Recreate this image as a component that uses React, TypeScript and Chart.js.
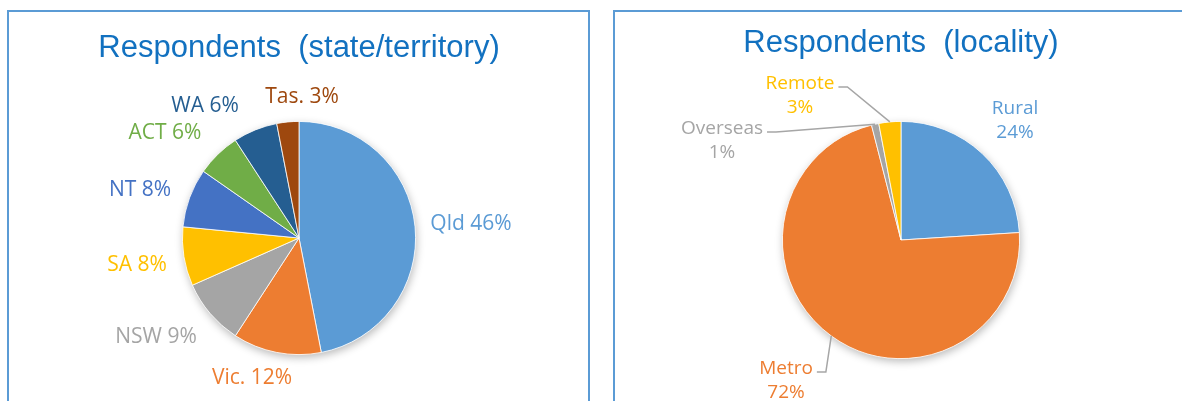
import React, { useEffect, useRef } from "react";
import { Chart, registerables } from "chart.js";

Chart.register(...registerables);

// ---- data ----
const stateNames = ["Qld", "Vic.", "NSW", "SA", "NT", "ACT", "WA", "Tas."];
const stateValues = [46, 12, 9, 8, 8, 6, 6, 3];
const stateColors = ["#5B9BD5", "#ED7D31", "#A5A5A5", "#FFC000", "#4472C4", "#70AD47", "#255E91", "#9E480E"];

const localityNames = ["Rural", "Metro", "Overseas", "Remote"];
const localityValues = [24, 72, 1, 3];
const localityColors = ["#5B9BD5", "#ED7D31", "#A5A5A5", "#FFC000"];

// ---- label layout (offset of label centre from pie centre, px) ----
const stateLabelOffsets = [[172, -14], [-47, 140], [-143, 99], [-162, 27], [-159, -48], [-134, -105], [-94, -132], [3, -141]];
const localityLabelOffsets = [[114, -119], [-115, 141], [-179, -99], [-101, -144]];
const localityLeaders = [false, true, true, true];
const stateLeaders = [false, false, false, false, false, false, false, false];

const TITLE_COLOR = "#1271C0";

function labelPlugin(lines: string[][], colors: string[], offsets: number[][], leaders: boolean[], font: string) {
  return {
    id: "sliceLabels",
    beforeDatasetsDraw(chart: any) {
      const ctx = chart.ctx;
      const el = chart.getDatasetMeta(0).data[0];
      if (!el) return;
      const p = el.getProps(["x", "y", "outerRadius"], true);
      ctx.save();
      ctx.beginPath();
      ctx.arc(p.x, p.y, p.outerRadius, 0, Math.PI * 2);
      ctx.fillStyle = "#ffffff";
      ctx.shadowColor = "rgba(0,0,0,0.28)";
      ctx.shadowBlur = 9;
      ctx.shadowOffsetX = 1;
      ctx.shadowOffsetY = 3;
      ctx.fill();
      ctx.restore();
    },
    afterDatasetsDraw(chart: any) {
      const ctx = chart.ctx;
      const meta = chart.getDatasetMeta(0);
      const lh = 24;
      ctx.save();
      ctx.font = font;
      ctx.textAlign = "center";
      ctx.textBaseline = "middle";
      meta.data.forEach((el: any, i: number) => {
        const p = el.getProps(["x", "y", "startAngle", "endAngle", "outerRadius"], true);
        const cx = p.x + offsets[i][0];
        const cy = p.y + offsets[i][1];
        const ls = lines[i];
        const top = cy - ((ls.length - 1) / 2) * lh;
        ctx.fillStyle = colors[i];
        ls.forEach((t, k) => ctx.fillText(t, cx, top + k * lh));
        if (leaders[i]) {
          const w = Math.max(...ls.map((t) => ctx.measureText(t).width));
          const sx = cx + w / 2 + 4;
          const sy = top + 3;
          const mid = (p.startAngle + p.endAngle) / 2;
          const ex = p.x + Math.cos(mid) * p.outerRadius;
          const ey = p.y + Math.sin(mid) * p.outerRadius;
          ctx.beginPath();
          ctx.moveTo(sx, sy);
          ctx.lineTo(sx + 9, sy);
          ctx.lineTo(ex, ey);
          ctx.strokeStyle = "#A6A6A6";
          ctx.lineWidth = 1.5;
          ctx.stroke();
        }
      });
      ctx.restore();
    },
  };
}

function PieChart(props: {
  names: string[];
  values: number[];
  colors: string[];
  title: string;
  lines: string[][];
  offsets: number[][];
  leaders: boolean[];
  labelFont: string;
  titleTop: number;
  titleBottom: number;
  padBottom: number;
  width: number;
  left: number;
}) {
  const ref = useRef<HTMLCanvasElement | null>(null);
  useEffect(() => {
    if (!ref.current) return;
    const chart = new Chart(ref.current, {
      type: "pie",
      data: {
        labels: props.names,
        datasets: [
          {
            data: props.values,
            backgroundColor: props.colors,
            borderColor: "#ffffff",
            borderWidth: 0.8,
          },
        ],
      },
      options: {
        animation: false,
        responsive: false,
        events: [],
        layout: { padding: { top: 0, left: 0, right: 0, bottom: props.padBottom } },
        plugins: {
          legend: { display: false },
          tooltip: { enabled: false },
          title: {
            display: true,
            text: props.title,
            color: TITLE_COLOR,
            font: { family: "'Liberation Sans', Arial, sans-serif", size: 31, weight: "normal" },
            padding: { top: props.titleTop, bottom: props.titleBottom },
          },
        },
      },
      plugins: [labelPlugin(props.lines, props.colors, props.offsets, props.leaders, props.labelFont)],
    } as any);
    return () => chart.destroy();
  }, []);
  return (
    <canvas
      ref={ref}
      width={props.width}
      height={401}
      style={{ position: "absolute", left: props.left, top: 0, width: props.width, height: 401 }}
    />
  );
}

export default function App() {
  const stateLines = stateNames.map((n, i) => [`${n} ${stateValues[i]}%`]);
  const localityLines = localityNames.map((n, i) => [n, `${localityValues[i]}%`]);
  const panel: React.CSSProperties = {
    position: "absolute",
    top: 10,
    height: 440,
    border: "2px solid #5B9BD5",
    boxSizing: "border-box",
    background: "#ffffff",
  };
  return (
    <div style={{ position: "fixed", left: 0, top: 0, width: 1182, height: 401, overflow: "hidden", background: "#ffffff" }}>
      <div style={{ ...panel, left: 7, width: 583 }} />
      <div style={{ ...panel, left: 613, width: 620 }} />
      <PieChart
        names={stateNames}
        values={stateValues}
        colors={stateColors}
        title="Respondents  (state/territory)"
        lines={stateLines}
        offsets={stateLabelOffsets}
        leaders={stateLeaders}
        labelFont="21px 'Open Sans'"
        titleTop={29.4}
        titleBottom={54.4}
        padBottom={46}
        width={598}
        left={0}
      />
      <PieChart
        names={localityNames}
        values={localityValues}
        colors={localityColors}
        title="Respondents  (locality)"
        lines={localityLines}
        offsets={localityLabelOffsets}
        leaders={localityLeaders}
        labelFont="19px 'Open Sans'"
        titleTop={24.4}
        titleBottom={59.4}
        padBottom={42}
        width={562}
        left={620}
      />
    </div>
  );
}
